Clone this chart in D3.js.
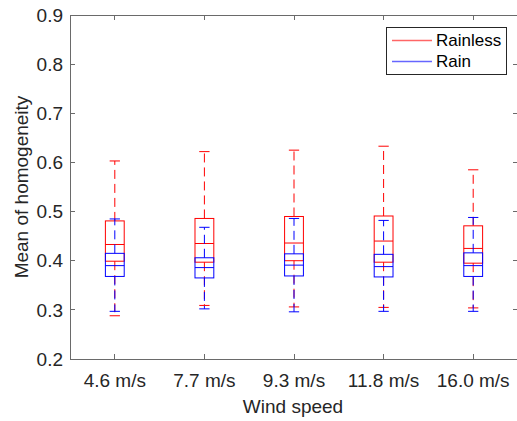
<!DOCTYPE html>
<html>
<head>
<meta charset="utf-8">
<script src="https://cdn.jsdelivr.net/npm/d3@7"></script>
<style>
  html, body { margin: 0; padding: 0; background: #fff; }
  svg { display: block; font-family: "Liberation Sans", Arial, Helvetica, sans-serif; }
</style>
</head>
<body>
<svg id="chart" width="517" height="421"></svg>
<script>
// ---- data ----
const categories = ["4.6 m/s", "7.7 m/s", "9.3 m/s", "11.8 m/s", "16.0 m/s"];
const yTicks = [0.2, 0.3, 0.4, 0.5, 0.6, 0.7, 0.8, 0.9];
// Rainless: lower whisker, Q1, median, Q3, upper whisker
const rainlessLow    = [0.288, 0.309, 0.306, 0.305, 0.304];
const rainlessQ1     = [0.399, 0.397, 0.400, 0.397, 0.395];
const rainlessMedian = [0.433, 0.435, 0.436, 0.440, 0.425];
const rainlessQ3     = [0.481, 0.486, 0.490, 0.491, 0.471];
const rainlessHigh   = [0.603, 0.622, 0.625, 0.633, 0.585];
// Rain
const rainLow    = [0.297, 0.302, 0.296, 0.297, 0.297];
const rainQ1     = [0.368, 0.365, 0.369, 0.367, 0.368];
const rainMedian = [0.390, 0.386, 0.391, 0.388, 0.390];
const rainQ3     = [0.415, 0.406, 0.414, 0.413, 0.416];
const rainHigh   = [0.485, 0.468, 0.486, 0.482, 0.488];
const seriesNames = ["Rainless", "Rain"];

const series = [
  { name: seriesNames[0], color: "#ff0000",
    rows: categories.map((c, i) => ({ c, lo: rainlessLow[i], q1: rainlessQ1[i], med: rainlessMedian[i], q3: rainlessQ3[i], hi: rainlessHigh[i] })) },
  { name: seriesNames[1], color: "#0000ff",
    rows: categories.map((c, i) => ({ c, lo: rainLow[i], q1: rainQ1[i], med: rainMedian[i], q3: rainQ3[i], hi: rainHigh[i] })) }
];

// ---- layout ----
const L = 70, R = 518, T = 15, B = 359;
const svg = d3.select("#chart");
const x = d3.scalePoint().domain(categories).range([L, R]).padding(0.5);
const y = d3.scaleLinear().domain([0.2, 0.9]).range([B, T]);
const step = x.step();
const boxW = step * 0.21;
const capW = step * 0.115;
const axisColor = "#6a6a6a";
const textColor = "#262626";

// axes frame
const g = svg.append("g");
g.append("rect").attr("x", L).attr("y", T).attr("width", R - L).attr("height", B - T)
  .attr("fill", "none").attr("stroke", axisColor).attr("stroke-width", 1).attr("shape-rendering", "crispEdges");

// y ticks (inward, both sides)
const yt = g.selectAll(".yt").data(yTicks).enter();
yt.append("line").attr("x1", L).attr("x2", L + 5).attr("y1", d => y(d)).attr("y2", d => y(d))
  .attr("stroke", axisColor).attr("shape-rendering", "crispEdges");
yt.append("line").attr("x1", R).attr("x2", R - 5).attr("y1", d => y(d)).attr("y2", d => y(d))
  .attr("stroke", axisColor).attr("shape-rendering", "crispEdges");
yt.append("text").attr("x", L - 7).attr("y", d => y(d)).attr("dy", "0.35em")
  .attr("text-anchor", "end").attr("font-size", 19).attr("fill", textColor)
  .text(d => d3.format(".1f")(d));

// x ticks (inward, top and bottom)
const xt = g.selectAll(".xt").data(categories).enter();
xt.append("line").attr("x1", d => x(d)).attr("x2", d => x(d)).attr("y1", B).attr("y2", B - 5)
  .attr("stroke", axisColor).attr("shape-rendering", "crispEdges");
xt.append("line").attr("x1", d => x(d)).attr("x2", d => x(d)).attr("y1", T).attr("y2", T + 5)
  .attr("stroke", axisColor).attr("shape-rendering", "crispEdges");
xt.append("text").attr("x", d => x(d)).attr("y", 386.5)
  .attr("text-anchor", "middle").attr("font-size", 19).attr("fill", textColor)
  .text(d => d);

// axis labels
svg.append("text").attr("x", (L + R) / 2 - 1).attr("y", 412.5).attr("text-anchor", "middle")
  .attr("font-size", 19).attr("fill", textColor).text("Wind speed");
svg.append("text").attr("transform", `translate(28,${(T + B) / 2}) rotate(-90)`)
  .attr("text-anchor", "middle").attr("font-size", 19).attr("fill", textColor).text("Mean of homogeneity");

// boxes
series.forEach(s => {
  const sg = svg.append("g").attr("stroke", s.color).attr("fill", "none").attr("stroke-width", 1);
  const rows = sg.selectAll("g").data(s.rows).enter().append("g");
  // whiskers
  rows.append("line").attr("x1", d => x(d.c)).attr("x2", d => x(d.c))
    .attr("y1", d => y(d.q3)).attr("y2", d => y(d.hi)).attr("stroke-dasharray", "9,5");
  rows.append("line").attr("x1", d => x(d.c)).attr("x2", d => x(d.c))
    .attr("y1", d => y(d.q1)).attr("y2", d => y(d.lo)).attr("stroke-dasharray", "9,5");
  // caps
  rows.append("line").attr("x1", d => x(d.c) - capW / 2).attr("x2", d => x(d.c) + capW / 2)
    .attr("y1", d => y(d.hi)).attr("y2", d => y(d.hi));
  rows.append("line").attr("x1", d => x(d.c) - capW / 2).attr("x2", d => x(d.c) + capW / 2)
    .attr("y1", d => y(d.lo)).attr("y2", d => y(d.lo));
  // box
  rows.append("rect").attr("x", d => x(d.c) - boxW / 2).attr("width", boxW)
    .attr("y", d => y(d.q3)).attr("height", d => y(d.q1) - y(d.q3));
  // median
  rows.append("line").attr("x1", d => x(d.c) - boxW / 2).attr("x2", d => x(d.c) + boxW / 2)
    .attr("y1", d => y(d.med)).attr("y2", d => y(d.med));
});

// legend
const lg = svg.append("g");
lg.append("rect").attr("x", 386.5).attr("y", 27.5).attr("width", 120).attr("height", 47)
  .attr("fill", "#fff").attr("stroke", textColor).attr("stroke-width", 1);
series.forEach((s, i) => {
  const yy = 40.5 + i * 21;
  lg.append("line").attr("x1", 392).attr("x2", 432).attr("y1", yy).attr("y2", yy)
    .attr("stroke", s.color).attr("stroke-width", 1.5).attr("stroke-opacity", 0.6);
  lg.append("text").attr("x", 436).attr("y", yy).attr("dy", "0.35em")
    .attr("font-size", 17).attr("fill", "#000").text(s.name);
});
</script>
</body>
</html>
